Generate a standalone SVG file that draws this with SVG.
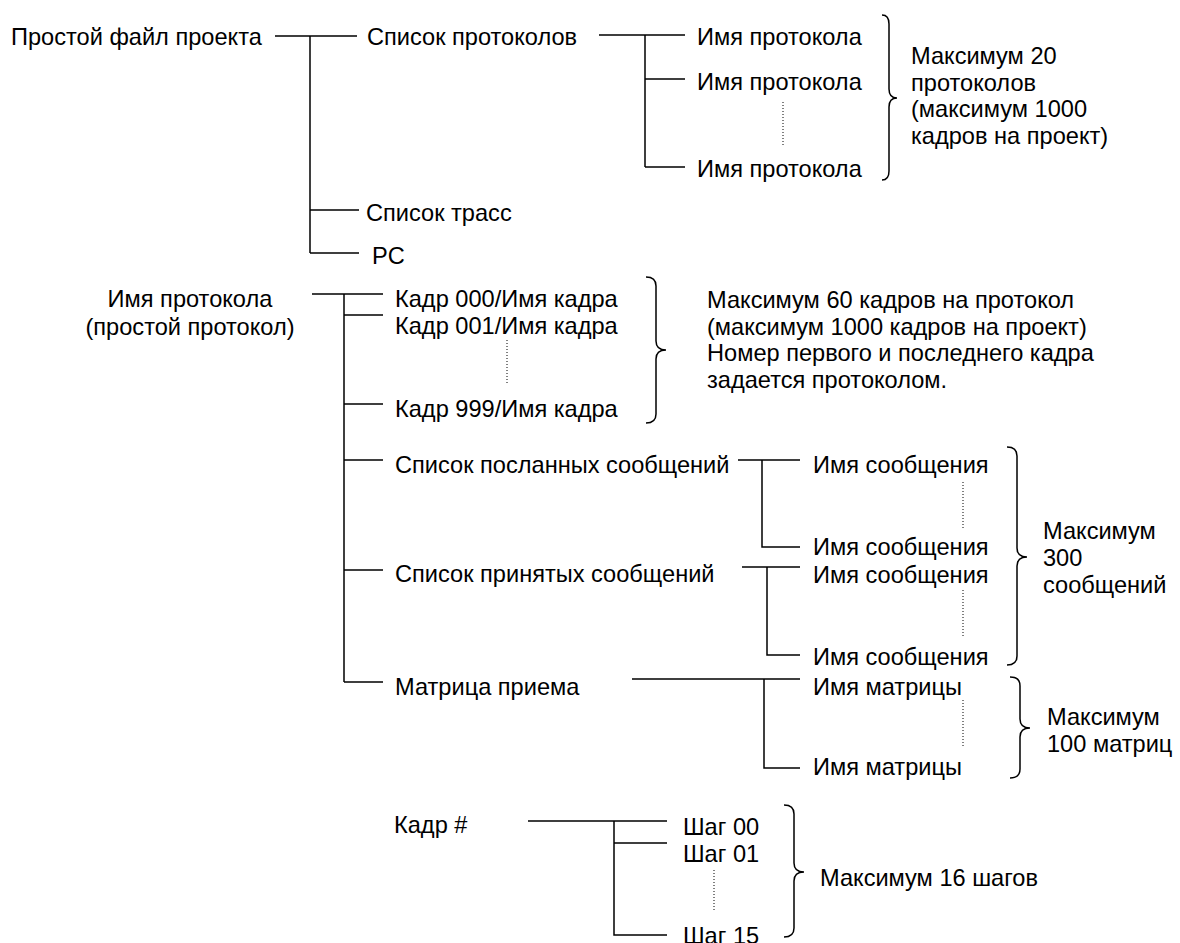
<svg xmlns="http://www.w3.org/2000/svg" width="1180" height="943" viewBox="0 0 1180 943">
<style>
text{font-family:"Liberation Sans",Arial,sans-serif;font-size:23.6px;fill:#000}
.c{stroke:#000;stroke-width:1.5;fill:none}
.d{stroke:#000;stroke-width:1;stroke-dasharray:1 2;fill:none}
.b{stroke:#000;stroke-width:1.5;fill:none}
.m{text-anchor:middle}
</style>
<rect width="1180" height="943" fill="#fff"/>
<g id="connectors">
<path class="c" d="M275 36H357M310 36V253M310 210H359M310 253H359"/>
<path class="c" d="M599 35H685M645 35V167M645 79H685M645 167H685"/>
<path class="d" d="M783 102V145"/>
<path class="c" d="M312 294H383M344 294V682M344 315H383M344 404H383M344 460H383M344 570H383M344 682H383"/>
<path class="d" d="M507 340V383"/>
<path class="c" d="M738 460H800M762 460V547H800"/>
<path class="c" d="M742 567H800M767 567V655H800"/>
<path class="c" d="M632 679H800M764 679V768H800"/>
<path class="d" d="M963 482V528M963 590V637M963 700V747"/>
<path class="c" d="M528 821H667M614 821V935H667M614 843H667"/>
<path class="d" d="M714 870V910"/>
</g>
<g id="braces">
<path class="b" d="M882 15Q889 15 889 24V89Q889 98 897 98Q889 98 889 107V171Q889 180 882 180"/>
<path class="b" d="M646 277Q656 277 656 286V341Q656 350 666 350Q656 350 656 359V414Q656 423 646 423"/>
<path class="b" d="M1007 447Q1017 447 1017 456V548Q1017 557 1027 557Q1017 557 1017 566V656Q1017 665 1007 665"/>
<path class="b" d="M1010 677Q1020 677 1020 686V719Q1020 728 1030 728Q1020 728 1020 737V769Q1020 778 1010 778"/>
<path class="b" d="M784 805Q794 805 794 814V863Q794 872 804 872Q794 872 794 881V928Q794 937 784 937"/>
</g>
<g id="n-project"><text x="11" y="45">Простой файл проекта</text></g>
<g id="n-protlist"><text x="367" y="45">Список протоколов</text></g>
<g id="n-trace"><text x="366" y="221">Список трасс</text></g>
<g id="n-pc"><text x="372" y="264">PC</text></g>
<g id="n-pn1"><text x="697" y="45">Имя протокола</text></g>
<g id="n-pn2"><text x="697" y="90">Имя протокола</text></g>
<g id="n-pn3"><text x="697" y="177">Имя протокола</text></g>
<g id="note-protocols">
<text x="911" y="64">Максимум 20</text>
<text x="911" y="90.5">протоколов</text>
<text x="911" y="117">(максимум 1000</text>
<text x="911" y="143.5">кадров на проект)</text>
</g>
<g id="n-protocol">
<text class="m" x="190" y="307">Имя протокола</text>
<text class="m" x="190" y="335">(простой протокол)</text>
</g>
<g id="n-f000"><text x="395" y="307">Кадр 000/Имя кадра</text></g>
<g id="n-f001"><text x="395" y="334">Кадр 001/Имя кадра</text></g>
<g id="n-f999"><text x="395" y="417">Кадр 999/Имя кадра</text></g>
<g id="note-frames">
<text x="707" y="308">Максимум 60 кадров на протокол</text>
<text x="707" y="334.5">(максимум 1000 кадров на проект)</text>
<text x="707" y="361">Номер первого и последнего кадра</text>
<text x="707" y="387.5">задается протоколом.</text>
</g>
<g id="n-sent"><text x="395" y="473">Список посланных сообщений</text></g>
<g id="n-recv"><text x="395" y="582">Список принятых сообщений</text></g>
<g id="n-matrix"><text x="395" y="695">Матрица приема</text></g>
<g id="n-msg1"><text x="813" y="473">Имя сообщения</text></g>
<g id="n-msg2"><text x="813" y="555">Имя сообщения</text></g>
<g id="n-msg3"><text x="813" y="583">Имя сообщения</text></g>
<g id="n-msg4"><text x="813" y="665">Имя сообщения</text></g>
<g id="n-mx1"><text x="813" y="695">Имя матрицы</text></g>
<g id="n-mx2"><text x="813" y="775">Имя матрицы</text></g>
<g id="note-messages">
<text x="1043" y="539">Максимум</text>
<text x="1043" y="566">300</text>
<text x="1043" y="593">сообщений</text>
</g>
<g id="note-matrices">
<text x="1047" y="725">Максимум</text>
<text x="1047" y="752">100 матриц</text>
</g>
<g id="n-frame"><text x="394" y="833">Кадр #</text></g>
<g id="n-s00"><text x="683" y="835">Шаг 00</text></g>
<g id="n-s01"><text x="683" y="862">Шаг 01</text></g>
<g id="n-s15"><text x="683" y="944">Шаг 15</text></g>
<g id="note-steps"><text x="820" y="886">Максимум 16 шагов</text></g>
</svg>
